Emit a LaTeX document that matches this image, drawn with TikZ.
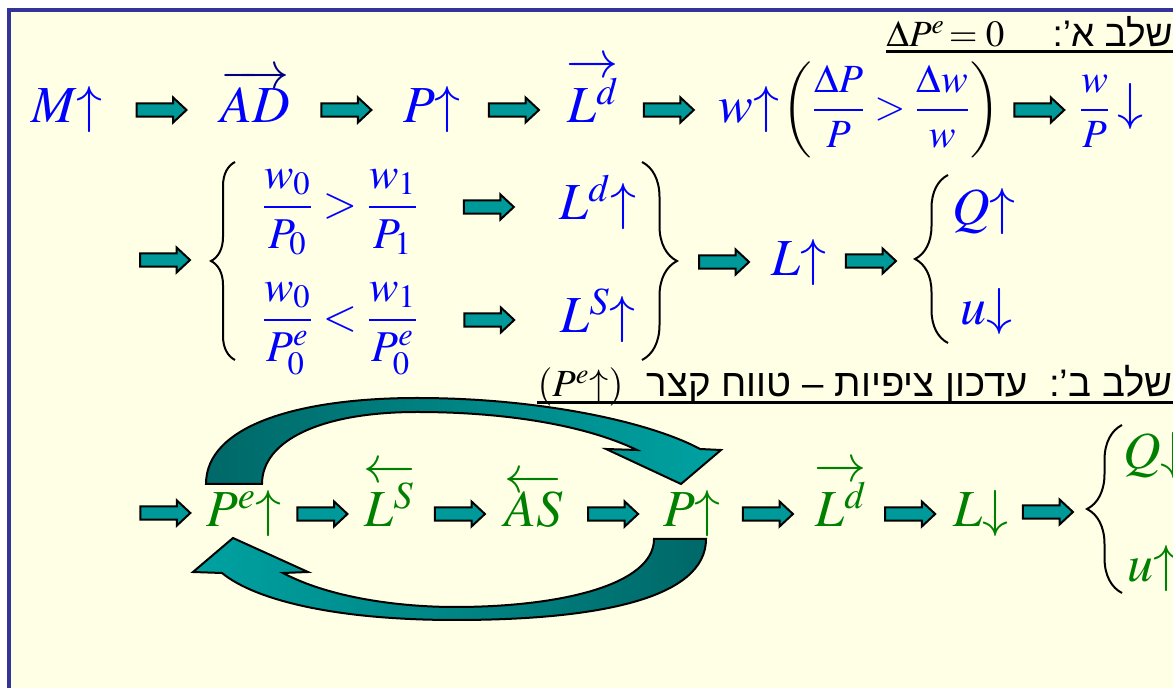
\documentclass[tikz,border=0pt]{standalone}
\usepackage{amsmath}
\usepackage{mathptmx}
\usepackage[no-math]{fontspec}
\newfontfamily\hebfont[Script=Hebrew]{Liberation Sans}
\TeXXeTstate=1
\usetikzlibrary{calc,decorations.pathreplacing}
\definecolor{fondo}{RGB}{255,255,230}
\definecolor{marco}{RGB}{51,51,153}
\definecolor{azul}{RGB}{0,0,255}
\definecolor{marino}{RGB}{0,0,128}
\definecolor{verde}{RGB}{0,128,0}
\definecolor{turquesa}{RGB}{0,153,153}
\definecolor{turqoscuro}{RGB}{0,104,104}
\definecolor{turqclaro}{RGB}{0,162,162}

\begin{document}
\begin{tikzpicture}[x=0.5pt, y=-0.5pt,
        grande/.style={font=\fontsize{26}{31}\selectfont, inner sep=0pt,
        text height=18pt, text depth=5pt},
        medio/.style={font=\fontsize{22}{26}\selectfont, inner sep=0pt,
        text height=15pt, text depth=4pt},
        chico/.style={font=\fontsize{20}{24}\selectfont, inner sep=0pt,
        text height=14pt, text depth=4pt},
        cabecera/.style={font=\fontsize{18.5}{22}\selectfont, inner sep=0pt},
        subraya/.style={line width=1.5pt},
        llave/.style={decorate, decoration={brace, amplitude=#1}, line width=1pt},
        curva/.style 2 args={draw=black, line width=1pt, left color=#1, right color=#2},
        flecha/.style={draw=black, line width=1pt, fill=turquesa,
        to path={let \p1=($(\tikztostart)!.5!(\tikztotarget)$) in
        (\x1-12.5pt,\y1-3.3pt) -- (\x1+5.8pt,\y1-3.3pt) -- (\x1+5.8pt,\y1-6.25pt)
        -- (\x1+12.5pt,\y1) -- (\x1+5.8pt,\y1+6.25pt) -- (\x1+5.8pt,\y1+3.3pt)
        -- (\x1-12.5pt,\y1+3.3pt) -- cycle}}
    ]
        \useasboundingbox (0,0) rectangle (1173,688);
        \clip (0,0) rectangle (1173,688);
        \fill[white] (0,0) rectangle (1173,688);
        \fill[fondo] (8.7,10) rectangle (1300,800);
        \draw[marco, line width=2pt] (8.7,10) rectangle (1300,800);

        \draw[curva={turqoscuro}{turqclaro}] (206,484) .. controls (206,425) and (300,398) .. (417,398)
            .. controls (540,398) and (650,422) .. (700,449) -- (721,450) -- (681,484) -- (606,449)
            -- (637,450) .. controls (585,425) and (505,412) .. (417,412)
            .. controls (322,412) and (262,440) .. (262,484) -- cycle;
        \draw[curva={turqclaro}{turqoscuro}] (706,539) .. controls (706,598) and (600,620) .. (455,620)
            .. controls (335,620) and (255,600) .. (222,573) -- (193,572) -- (233,538) -- (308,572)
            -- (283,573) .. controls (330,598) and (400,607) .. (455,607)
            .. controls (560,607) and (654,585) .. (654,539) -- cycle;

        \node[cabecera, anchor=base east] (h1) at (1173,47)
            {$\Delta P^{e}\!=0$\quad\ \hebfont\beginR שלב א’:\endR};
        \draw[subraya] ([yshift=-2.4pt]h1.base west) -- ([yshift=-2.4pt]h1.base east);
        \node[cabecera, font=\fontsize{19.2}{23}\selectfont, anchor=base east] (h2) at (1173,397)
            {$(P^{e}{\uparrow})$\ \ \hebfont\beginR שלב ב’:\ \ עדכון ציפיות – טווח קצר\endR};
        \draw[subraya] ([yshift=-2.8pt]h2.base west) -- ([yshift=-2.8pt]h2.base east);

        \node[grande, text=azul] (m) at (67,110) {$M{\uparrow}$};
        \node[grande, text=marino] (ad) at (255,110) {$\overrightarrow{\color{azul}AD}$};
        \node[grande, text=azul] (p) at (432,110) {$P{\uparrow}$};
        \node[grande, text=azul] (ld) at (593,110) {$\overrightarrow{L^{d}}$};
        \node[grande, text=azul] (w) at (749,110) {$w{\uparrow}$};
        \node[chico] (razon) at (891,110)
            {$\left(\textcolor{azul}{\dfrac{\Delta P}{P}>\dfrac{\Delta w}{w}}\right)$};
        \node[chico, text=azul] (wp) at (1111,110)
            {$\dfrac{w}{P}$\,{\fontsize{26}{31}\selectfont$\downarrow$}};

        \coordinate (e2) at (119,260);
        \coordinate (ll1) at (211,260);
        \node[medio, text=azul] (f1) at (340,207) {$\dfrac{w_0}{P_0}>\dfrac{w_1}{P_1}$};
        \node[grande, text=azul] (l1) at (598,207) {$L^{d}{\uparrow}$};
        \node[medio, text=azul] (f2) at (340,320) {$\dfrac{w_0}{P^{e}_0}<\dfrac{w_1}{P^{e}_0}$};
        \node[grande, text=azul] (l2) at (598,320) {$L^{S}{\uparrow}$};
        \coordinate (ll2) at (677,261);
        \node[grande, text=azul] (l) at (799,263) {$L{\uparrow}$};
        \coordinate (ll3) at (915,259);
        \node[grande, text=azul] (q) at (984,212) {$Q{\uparrow}$};
        \node[grande, text=azul] (u) at (986,312) {$u{\downarrow}$};

        \coordinate (e3) at (125,512);
        \node[grande, text=verde] (pe) at (244,514) {$P^{e}{\uparrow}$};
        \node[grande, text=verde] (ls) at (389,514) {$\overleftarrow{L^{S}}$};
        \node[grande, text=verde] (as) at (534,514) {$\overleftarrow{AS}$};
        \node[grande, text=verde] (p2) at (692,514) {$P{\uparrow}$};
        \node[grande, text=verde] (ld2) at (841,514) {$\overrightarrow{L^{d}}$};
        \node[grande, text=verde] (l3) at (981,514) {$L{\downarrow}$};
        \coordinate (ll4) at (1087,510);
        \node[grande, text=verde, anchor=west] (q2) at (1123,456) {$Q{\downarrow}$};
        \node[grande, text=verde, anchor=west] (u2) at (1127,569) {$u{\uparrow}$};

        \draw[llave=12pt] (235,360) -- (235,162);
        \draw[llave=17.5pt] (642,162) -- (642,360);
        \draw[llave=16.5pt] (948,343) -- (948,175);
        \draw[llave=17.5pt] (1122,593) -- (1122,425);

        \draw[flecha] (m.east) to (ad.west);
        \draw[flecha] (ad.east) to (p.west);
        \draw[flecha] (p.east) to (ld.west);
        \draw[flecha] (ld.east) to (w.west);
        \draw[flecha] (razon.east) to (wp.west);
        \draw[flecha] (e2) to (ll1);
        \draw[flecha] (f1.east) to (l1.west);
        \draw[flecha] (f2.east) to (l2.west);
        \draw[flecha] (ll2) to (l.west);
        \draw[flecha] (l.east) to (ll3);
        \draw[flecha] (e3) to (pe.west);
        \draw[flecha] (pe.east) to (ls.west);
        \draw[flecha] (ls.east) to (as.west);
        \draw[flecha] (as.east) to (p2.west);
        \draw[flecha] (p2.east) to (ld2.west);
        \draw[flecha] (ld2.east) to (l3.west);
        \draw[flecha] (l3.east) to (ll4);
    \end{tikzpicture}
\end{document}
